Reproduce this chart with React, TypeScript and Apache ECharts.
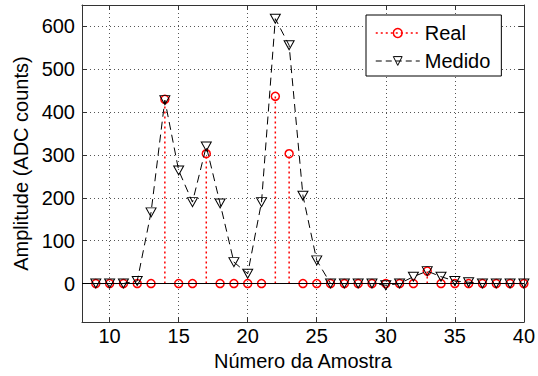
import React, { useEffect, useRef } from 'react';
import * as echarts from 'echarts';

const samples = [9, 10, 11, 12, 13, 14, 15, 16, 17, 18, 19, 20, 21, 22, 23, 24, 25, 26, 27, 28, 29, 30, 31, 32, 33, 34, 35, 36, 37, 38, 39, 40];
const realValues = [0, 0, 0, 0, 0, 430, 0, 0, 303, 0, 0, 0, 0, 437, 303, 0, 0, 0, 0, 0, 0, 0, 0, 0, 29, 0, 0, 0, 0, 0, 0, 0];
const measuredValues = [0, 0, 0, 6, 166, 428, 264, 190, 320, 187, 50, 23, 190, 618, 556, 205, 54, 0, 0, 0, 0, -4, 0, 16, 29, 16, 6, 3, 0, 0, 0, 0];
const xTicks = [10, 15, 20, 25, 30, 35, 40];
const yTicks = [0, 100, 200, 300, 400, 500, 600];

export default function App() {
  const ref = useRef<HTMLDivElement>(null);
  useEffect(() => {
    const chart = echarts.init(ref.current!, null, { renderer: 'svg' });
    const font = "'Liberation Sans', Arial, sans-serif";
    const realData = samples.map((x, i) => [x, realValues[i]]);
    const measData = samples.map((x, i) => [x, measuredValues[i]]);
    const gridLine = { show: true, lineStyle: { color: '#555', type: [1, 3], width: 1 } };
    const axisColor = '#333';
    chart.setOption({
      animation: false,
      backgroundColor: '#fff',
      textStyle: { fontFamily: font },
      grid: { left: 82, right: 11, top: 5, bottom: 53 },
      xAxis: [
        {
          type: 'value', min: 8, max: 40, position: 'bottom',
          axisLine: { show: true, onZero: false, lineStyle: { color: axisColor, width: 1 } },
          axisTick: { show: true, inside: true, length: 5, customValues: xTicks, lineStyle: { color: axisColor } },
          axisLabel: { customValues: xTicks, color: '#000', fontSize: 20, margin: 4, fontFamily: font },
          splitLine: gridLine,
          name: 'Número da Amostra', nameLocation: 'middle', nameGap: 28,
          nameTextStyle: { fontSize: 20, color: '#000', fontFamily: font },
        },
        {
          type: 'value', min: 8, max: 40, position: 'top',
          axisLine: { show: true, onZero: false, lineStyle: { color: axisColor, width: 1 } },
          axisTick: { show: true, inside: true, length: 5, customValues: xTicks, lineStyle: { color: axisColor } },
          axisLabel: { show: false },
          splitLine: { show: false },
        },
      ],
      yAxis: [
        {
          type: 'value', min: -90, max: 650, position: 'left',
          axisLine: { show: true, onZero: false, lineStyle: { color: axisColor, width: 1 } },
          axisTick: { show: true, inside: true, length: 5, customValues: yTicks, lineStyle: { color: axisColor } },
          axisLabel: { customValues: yTicks, color: '#000', fontSize: 20, margin: 7, fontFamily: font },
          splitLine: gridLine,
          name: 'Amplitude (ADC counts)', nameLocation: 'middle', nameGap: 48,
          nameTextStyle: { fontSize: 20, color: '#000', fontFamily: font },
        },
        {
          type: 'value', min: -90, max: 650, position: 'right',
          axisLine: { show: true, onZero: false, lineStyle: { color: axisColor, width: 1 } },
          axisTick: { show: true, inside: true, length: 5, customValues: yTicks, lineStyle: { color: axisColor } },
          axisLabel: { show: false },
          splitLine: { show: false },
        },
      ],
      legend: {
        show: true, orient: 'vertical', left: 366, top: 15,
        padding: [8, 11, 5, 9], itemGap: 8, itemWidth: 44, itemHeight: 11,
        backgroundColor: '#fff', borderColor: '#000', borderWidth: 1,
        selectedMode: false,
        textStyle: { fontSize: 20, color: '#000', fontFamily: font },
        data: [
          {
            name: 'Real',
            lineStyle: { color: '#ff0000', width: 1.5, type: [2, 3], opacity: 1 },
            itemStyle: { color: 'transparent', borderColor: '#ff0000', borderWidth: 1.5, opacity: 1 },
          },
          {
            name: 'Medido',
            lineStyle: { color: '#000', width: 1, type: [6, 4], opacity: 1 },
            itemStyle: { color: 'transparent', borderColor: '#000', borderWidth: 1, opacity: 1 },
          },
        ],
      },
      series: [
        {
          name: 'stems', type: 'custom', data: realData, z: 1,
          encode: { x: 0, y: 1 },
          renderItem: (params: any, api: any) => {
            const x = api.value(0);
            const y = api.value(1);
            const p0 = api.coord([x, 0]);
            const p1 = api.coord([x, y]);
            return {
              type: 'line',
              shape: { x1: p0[0], y1: p0[1], x2: p1[0], y2: p1[1] },
              style: { stroke: '#ff0000', lineWidth: 1.5, lineDash: [2, 3] },
            };
          },
        },
        {
          name: 'Real', type: 'line', data: realData, z: 2,
          symbol: 'circle', symbolSize: 8, showSymbol: true, showAllSymbol: true,
          lineStyle: { width: 0, opacity: 0 },
          itemStyle: { color: 'transparent', borderColor: '#ff0000', borderWidth: 1.5 },
          markLine: {
            silent: true, symbol: ['none', 'none'], label: { show: false },
            lineStyle: { color: '#000', type: 'solid', width: 1 },
            data: [{ yAxis: 0 }],
          },
        },
        {
          name: 'Medido', type: 'line', data: measData, z: 3,
          symbol: 'triangle', symbolRotate: 180, symbolSize: [10, 9], showSymbol: true, showAllSymbol: true,
          lineStyle: { color: '#000', width: 1, type: [8, 5] },
          itemStyle: { color: 'transparent', borderColor: '#000', borderWidth: 1 },
        },
      ],
    });
    return () => chart.dispose();
  }, []);
  return <div ref={ref} style={{ position: 'fixed', left: 0, top: 0, width: 538, height: 376 }} />;
}
